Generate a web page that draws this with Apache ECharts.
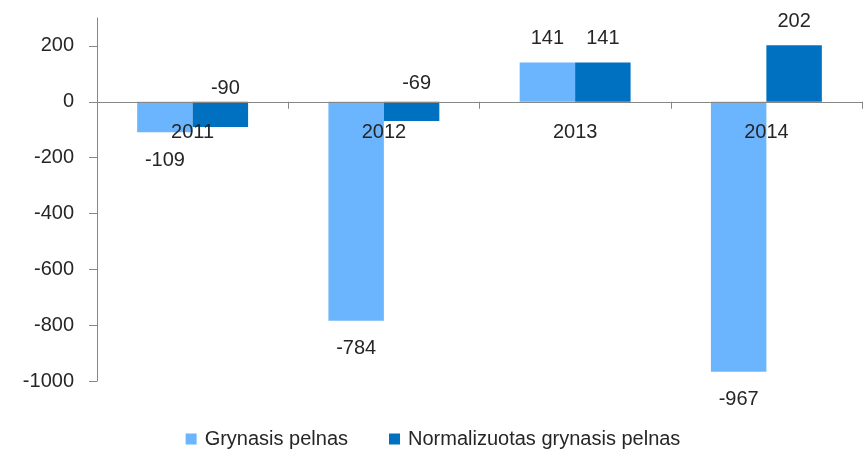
<!DOCTYPE html>
<html><head><meta charset="utf-8">
<script src="https://cdn.jsdelivr.net/npm/echarts@6/dist/echarts.min.js"></script>
<style>html,body{margin:0;padding:0;background:#fff}#c{width:866px;height:452px}</style>
</head><body><div id="c"></div>
<script>
const categories = ['2011', '2012', '2013', '2014'];
const grynasis = [-109, -784, 141, -967];
const normalizuotas = [-90, -69, 141, 202];
const yTicks = [-1000, -800, -600, -400, -200, 0, 200];
const seriesNames = ['Grynasis pelnas', 'Normalizuotas grynasis pelnas'];

const FONT = 'Liberation Sans';
const TXT = '#262626';

function items(values, negAbove) {
  return values.map(v => ({
    value: v,
    label: v < 0
      ? (negAbove ? { position: 'insideBottom', distance: 0, offset: [5, -28] } : { position: 'bottom', distance: 18 })
      : { position: 'top', distance: 14 }
  }));
}

const chart = echarts.init(document.getElementById('c'));
chart.setOption({
  animation: false,
  textStyle: { fontFamily: FONT },
  grid: { left: 97, right: 4, top: 18, bottom: 71, containLabel: false },
  legend: {
    top: 424, left: 'center', itemWidth: 11, itemHeight: 11, itemGap: 41,
    icon: 'rect',
    textStyle: { fontSize: 20, color: TXT, fontFamily: FONT, padding: [0, 0, 0, 3] },
    data: seriesNames
  },
  xAxis: {
    type: 'category', data: categories, z: 10,
    axisLine: { onZero: true, lineStyle: { color: '#868686', width: 1 } },
    axisTick: { show: true, length: 7, lineStyle: { color: '#868686' } },
    axisLabel: { show: false }
  },
  yAxis: {
    type: 'value', min: -1000, max: 300, interval: 100,
    splitLine: { show: false },
    axisLine: { show: true, lineStyle: { color: '#868686' } },
    axisTick: { show: true, length: 8, inside: false, lineStyle: { color: '#868686' }, customValues: yTicks },
    axisLabel: { fontSize: 20, color: TXT, margin: 23, fontFamily: FONT, customValues: yTicks,
      formatter: v => String(v) }
  },
  series: [
    {
      name: seriesNames[0], type: 'bar', data: items(grynasis, false),
      barGap: '0%', barCategoryGap: '42%',
      itemStyle: { color: '#6BB5FF' },
      label: { show: true, fontSize: 20, color: TXT, fontFamily: FONT }
    },
    {
      name: seriesNames[1], type: 'bar', data: items(normalizuotas, true),
      barGap: '0%', barCategoryGap: '42%',
      itemStyle: { color: '#0070C0' },
      label: { show: true, fontSize: 20, color: TXT, fontFamily: FONT }
    },
    {
      name: 'categoryLabels', type: 'scatter', z: 10, symbolSize: 0, silent: true,
      itemStyle: { opacity: 1 },
      data: categories.map(c => [c, 0]),
      label: { show: true, position: 'bottom', distance: 21, fontSize: 20, color: TXT, opacity: 1, fontFamily: FONT,
        formatter: p => p.value[0] }
    }
  ]
});
</script></body></html>
